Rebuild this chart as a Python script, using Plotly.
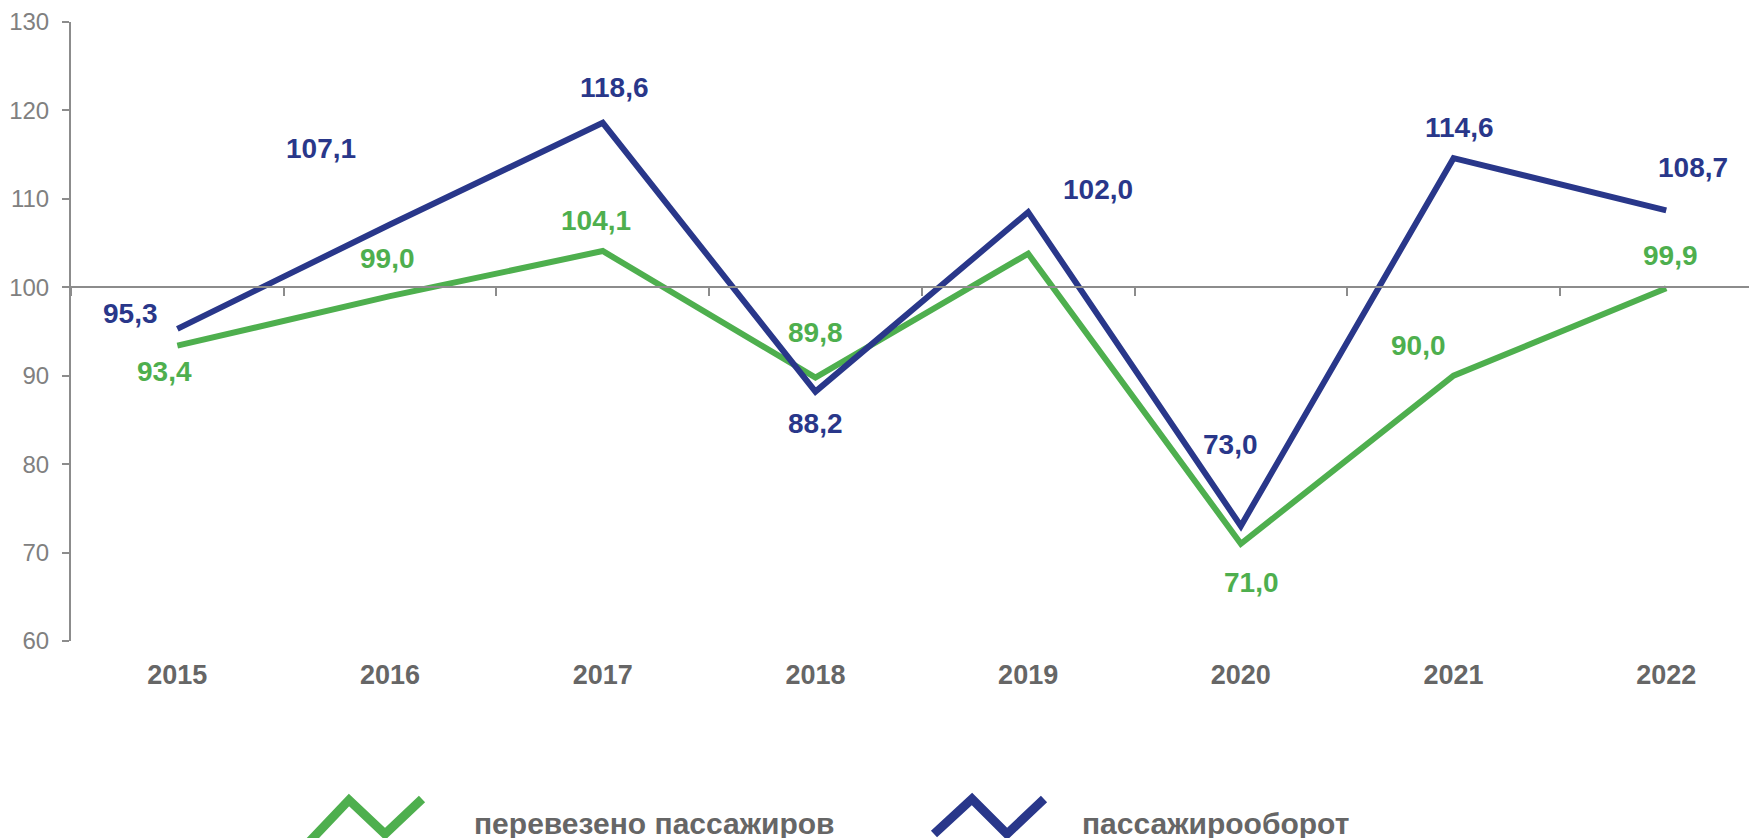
import plotly.graph_objects as go

# ---- data ----
years = ["2015", "2016", "2017", "2018", "2019", "2020", "2021", "2022"]
passengers = [93.4, 99.0, 104.1, 89.8, 103.8, 71.0, 90.0, 99.9]          # перевезено пассажиров
passenger_turnover = [95.3, 107.1, 118.6, 88.2, 108.5, 73.0, 114.6, 108.7]  # пассажирооборот
passengers_labels = ["93,4", "99,0", "104,1", "89,8", "", "71,0", "90,0", "99,9"]
turnover_labels = ["95,3", "107,1", "118,6", "88,2", "102,0", "73,0", "114,6", "108,7"]
series_names = ["перевезено пассажиров", "пассажирооборот"]

# ---- style ----
GREEN = "#4EAF4E"
BLUE = "#29378A"
AXIS = "#8C8C8C"
BODY = 8  # default page body margin
W, H = 1757 - BODY, 838 - BODY
ML, MR, MT, MB = 63, 0, 14, 197
plot_w = W - ML - MR
plot_h = H - MT - MB
cat_px = 212.7
x_max = -0.5 + plot_w / cat_px

# label offsets (px) relative to each point: (dx, dy) with dy positive = up
green_off = [(-13, -26), (-3, 38), (-7, 31), (0, 45), (0, 0), (11, -39), (-35, 30), (4, 33)]
blue_off = [(-47, 15), (-69, 76), (12, 35), (0, -32), (70, 23), (-10, 82), (6, 31), (27, 43)]

x_idx = list(range(len(years)))

fig = go.Figure()
fig.add_trace(go.Scatter(x=x_idx, y=passengers, mode="lines",
                         line=dict(color=GREEN, width=6), name=series_names[0],
                         showlegend=False, hoverinfo="skip"))
fig.add_trace(go.Scatter(x=x_idx, y=passenger_turnover, mode="lines",
                         line=dict(color=BLUE, width=6), name=series_names[1],
                         showlegend=False, hoverinfo="skip"))
# invisible trace to activate xaxis2 (line at 100)
fig.add_trace(go.Scatter(x=x_idx, y=passengers, xaxis="x2", mode="lines",
                         line=dict(width=0), opacity=0, showlegend=False, hoverinfo="skip"))

annotations = []
label_font = "Liberation Sans, Arial, sans-serif"
for i, (v, t) in enumerate(zip(passengers, passengers_labels)):
    if t:
        annotations.append(dict(x=i, y=v, xref="x", yref="y", text=f"<b>{t}</b>", showarrow=False,
                                xshift=green_off[i][0], yshift=green_off[i][1],
                                font=dict(family=label_font, size=28, color=GREEN)))
for i, (v, t) in enumerate(zip(passenger_turnover, turnover_labels)):
    if t:
        annotations.append(dict(x=i, y=v, xref="x", yref="y", text=f"<b>{t}</b>", showarrow=False,
                                xshift=blue_off[i][0], yshift=blue_off[i][1],
                                font=dict(family=label_font, size=28, color=BLUE)))


def px(xp, yp):
    # reference window pixel -> paper coordinates
    return (xp - BODY - ML) / plot_w, (H - MB - (yp - BODY)) / plot_h


def zigzag(pts, color):
    coords = [px(a, b) for a, b in pts]
    path = "M " + " L ".join(f"{a:.5f},{b:.5f}" for a, b in coords)
    return dict(type="path", xref="paper", yref="paper", path=path,
                line=dict(color=color, width=9), layer="above")


shapes = [
    zigzag([(310, 841), (349, 800), (385, 834), (422, 799)], GREEN),
    zigzag([(934, 834), (972, 799), (1007, 834), (1044, 799)], BLUE),
]

for name, xl in zip(series_names, [472, 1080]):
    xp, yp = px(xl, 823)
    annotations.append(dict(x=xp, y=yp, xref="paper", yref="paper", xanchor="left", yanchor="middle",
                            text=f"<b>{name}</b>", showarrow=False,
                            font=dict(family=label_font, size=30, color="#666666")))

fig.update_layout(
    width=W, height=H,
    margin=dict(l=ML, r=MR, t=MT, b=MB, pad=0),
    paper_bgcolor="white", plot_bgcolor="white",
    xaxis=dict(range=[-0.5, x_max], tickvals=x_idx, ticktext=years, showline=False,
               showgrid=False, zeroline=False, ticks="", ticklabelstandoff=15,
               tickfont=dict(family=label_font, size=27, color="#666666", weight="bold")),
    xaxis2=dict(range=[-0.5, x_max], overlaying="x", anchor="free", position=(100 - 60) / 70,
                side="bottom", showline=True, linecolor=AXIS, linewidth=2,
                tickvals=[i - 0.5 for i in range(len(years) + 1)], ticks="outside",
                ticklen=8, tickwidth=2, tickcolor=AXIS, showticklabels=False,
                showgrid=False, zeroline=False),
    yaxis=dict(range=[60, 130], dtick=10, tick0=60, showline=True, linecolor=AXIS, linewidth=2,
               ticks="outside", ticklen=7, tickwidth=2, tickcolor=AXIS, showgrid=False,
               zeroline=False, ticklabelstandoff=8,
               tickfont=dict(family=label_font, size=24, color="#808080")),
    annotations=annotations,
    shapes=shapes,
    showlegend=False,
)

fig.write_html("out.html")
